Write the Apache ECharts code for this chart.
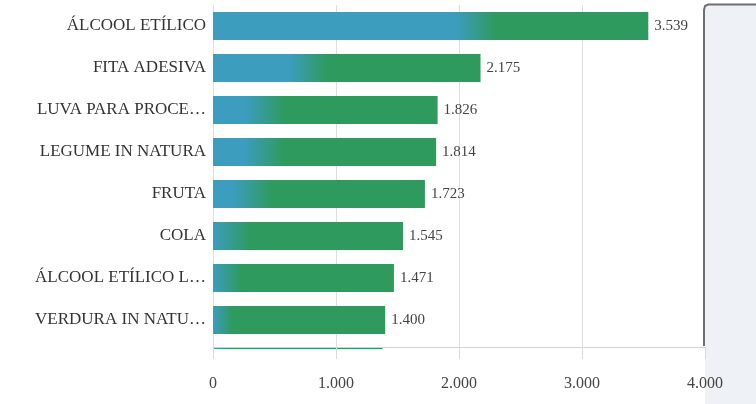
<!DOCTYPE html>
<html>
<head>
<meta charset="utf-8">
<script src="https://cdn.jsdelivr.net/npm/echarts@6/dist/echarts.min.js"></script>
<style>
  html, body { margin: 0; padding: 0; background: #ffffff; }
  #chart { width: 756px; height: 404px; }
</style>
</head>
<body>
<div id="chart"></div>
<script>
// ---- data ----
const categories = [
  'ÁLCOOL ETÍLICO',
  'FITA ADESIVA',
  'LUVA PARA PROCE…',
  'LEGUME IN NATURA',
  'FRUTA',
  'COLA',
  'ÁLCOOL ETÍLICO L…',
  'VERDURA IN NATU…',
  ''
];
const values = [3539, 2175, 1826, 1814, 1723, 1545, 1471, 1400, 1378];
const xTicks = [0, 1000, 2000, 3000, 4000];

// ---- layout ----
const GRID_LEFT = 213, GRID_RIGHT = 51, GRID_TOP = 5, GRID_BOTTOM = 21;
const X_MAX = 4000;
const plotW = 756 - GRID_LEFT - GRID_RIGHT;
const pxPerUnit = plotW / X_MAX;
const BLUE = '#3c9dbe', GREEN = '#2e9a5d';

function fmt(v) {
  return String(v).replace(/\B(?=(\d{3})+(?!\d))/g, '.');
}

const barData = values.map(function (v) {
  const L = v * pxPerUnit;
  const s1 = Math.max(0, (L - 192) / L);
  const s2 = Math.max(0.03, (L - 152) / L);
  return {
    value: v,
    itemStyle: {
      color: new echarts.graphic.LinearGradient(0, 0, 1, 0, [
        { offset: 0, color: BLUE },
        { offset: s1, color: BLUE },
        { offset: s2, color: GREEN },
        { offset: 1, color: GREEN }
      ])
    }
  };
});

const chart = echarts.init(document.getElementById('chart'), null, { renderer: 'canvas' });
const serif = 'Liberation Serif';

chart.setOption({
  animation: false,
  backgroundColor: '#ffffff',
  grid: { left: GRID_LEFT, right: GRID_RIGHT, top: GRID_TOP, bottom: GRID_BOTTOM, containLabel: false },
  xAxis: [
    {
      type: 'value', min: 0, max: X_MAX, interval: 1000, z: 0,
      axisLine: { show: false }, axisTick: { show: false }, axisLabel: { show: false },
      splitLine: { show: true, lineStyle: { color: '#dedede', width: 1 } }
    },
    {
      type: 'value', min: 0, max: X_MAX, interval: 1000, z: 10, offset: -36, position: 'bottom',
      axisLine: { show: true, lineStyle: { color: '#d2d2d2', width: 1 } },
      axisTick: { show: true, length: 12, lineStyle: { color: '#dadada' } },
      splitLine: { show: false },
      axisLabel: {
        margin: 29, fontFamily: serif, fontSize: 16, color: '#444',
        formatter: function (v) { return xTicks.indexOf(v) >= 0 ? fmt(v) : ''; }
      }
    }
  ],
  yAxis: {
    type: 'category', data: categories, inverse: true,
    axisLine: { show: false }, axisTick: { show: false },
    axisLabel: { margin: 7, fontFamily: serif, fontSize: 17, color: '#333' }
  },
  series: [{
    type: 'bar', xAxisIndex: 0, data: barData, barWidth: 28,
    label: {
      show: true, position: 'right', distance: 6,
      fontFamily: serif, fontSize: 15, color: '#444',
      formatter: function (p) { return fmt(p.value); }
    }
  }],
  graphic: {
    elements: [
      { type: 'rect', z: 5, silent: true, shape: { x: 0, y: 349, width: 704, height: 60 }, style: { fill: '#ffffff' } },
      { type: 'rect', z: 6, silent: true, shape: { x: 705, y: 4, width: 60, height: 410 }, style: { fill: '#eef1f5' } },
      { type: 'polyline', z: 7, silent: true,
        shape: { points: [[704, 346], [704, 10], [705, 6], [708, 4.5], [756, 4.5]] },
        style: { stroke: '#6e6e6e', lineWidth: 2, fill: null } }
    ]
  }
});
</script>
</body>
</html>
